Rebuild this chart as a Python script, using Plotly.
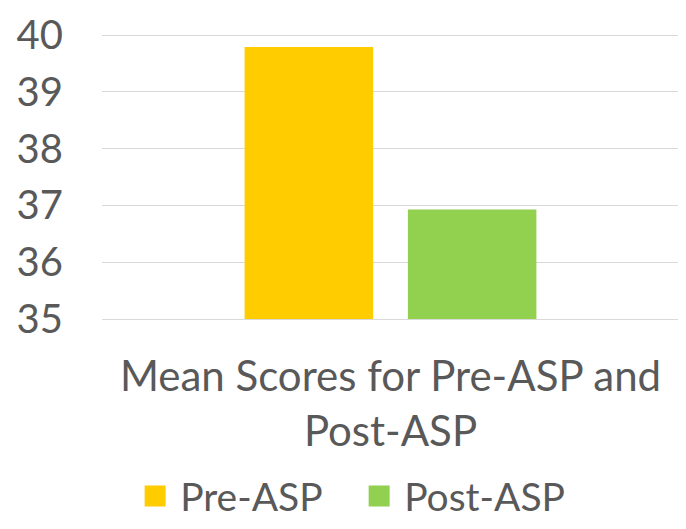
import plotly.graph_objects as go

categories = ["Mean Scores for Pre-ASP and<br>Post-ASP"]
series_names = ["Pre-ASP", "Post-ASP"]
pre_values = [39.79]
post_values = [36.93]
colors = ["#FFCC00", "#92D050"]
y_ticks = [35, 36, 37, 38, 39, 40]

FONT = "Lato"
TXT = "#595959"

fig = go.Figure()
for name, vals, col in zip(series_names, [pre_values, post_values], colors):
    fig.add_trace(go.Bar(x=categories, y=vals, name=name, marker_color=col,
                         marker_line_width=0, showlegend=False))
# legend entries with larger square symbols
for name, col in zip(series_names, colors):
    fig.add_trace(go.Scatter(x=[None], y=[None], mode="markers", name=name,
                             marker=dict(symbol="square", size=16, color=col,
                                         line=dict(color=col, width=6))))

# page body has an 8px margin, so the figure is sized/offset to compensate
fig.update_layout(
    width=678, height=521,
    margin=dict(l=94, r=7, t=26, b=210, autoexpand=False),
    plot_bgcolor="white", paper_bgcolor="white",
    barmode="group", bargap=0.434, bargroupgap=0.213,
    font=dict(family=FONT, color=TXT),
    legend=dict(orientation="h", x=0.437, xanchor="center",
                yref="container", y=0.063, yanchor="middle",
                font=dict(size=39, family=FONT, color=TXT), itemwidth=40,
                entrywidth=169, tracegroupgap=0),
)
fig.update_yaxes(range=[35, 40.02], tickvals=y_ticks, showgrid=True, gridcolor="#D9D9D9",
                 gridwidth=1, zeroline=False, showline=False, automargin=False,
                 tickfont=dict(size=40, family=FONT, color=TXT), ticklabelstandoff=38)
fig.update_xaxes(showline=True, linecolor="#D9D9D9", linewidth=1, showgrid=False,
                 automargin=False,
                 tickfont=dict(size=42, family=FONT, color=TXT), ticklabelstandoff=21)

fig.write_html("out.html")
